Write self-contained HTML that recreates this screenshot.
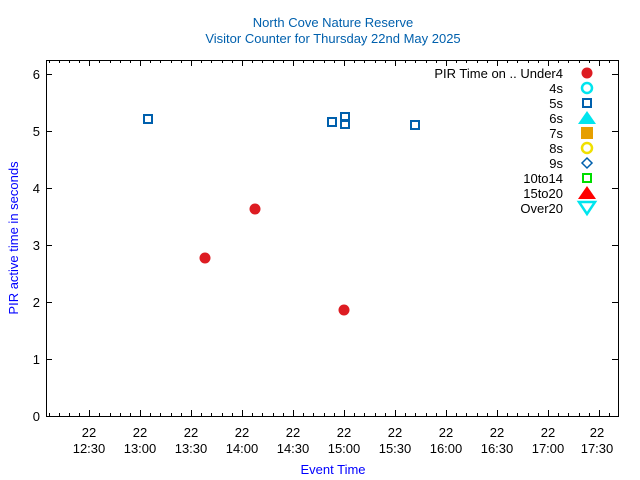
<!DOCTYPE html>
<html><head><style>body{margin:0;background:#fff}svg{display:block}text{font-family:"Liberation Sans",sans-serif}</style></head><body>
<svg width="640" height="480" xmlns="http://www.w3.org/2000/svg">
<rect width="640" height="480" fill="#fff"/>
<text x="333" y="27" font-size="13" fill="#0060ad" text-anchor="middle">North Cove Nature Reserve</text>
<text x="333" y="43" font-size="13" fill="#0060ad" text-anchor="middle">Visitor Counter for Thursday 22nd May 2025</text>
<rect x="46.5" y="60.5" width="572" height="356" fill="none" stroke="#000" stroke-width="1"/>
<path stroke="#000" stroke-width="1" d="M46 416.5h6M46 359.5h6M46 302.5h6M46 245.5h6M46 188.5h6M46 131.5h6M46 74.5h6M618 416.5h-6M618 359.5h-6M618 302.5h-6M618 245.5h-6M618 188.5h-6M618 131.5h-6M618 74.5h-6"/>
<path stroke="#000" stroke-width="1" d="
M49.5 416v-3M49.5 60v3M59.5 416v-3M59.5 60v3M69.5 416v-3M69.5 60v3M79.5 416v-3M79.5 60v3M89.5 416v-6M89.5 60v6
M99.5 416v-3M99.5 60v3M110.5 416v-3M110.5 60v3M120.5 416v-3M120.5 60v3M130.5 416v-3M130.5 60v3M140.5 416v-6M140.5 60v6
M150.5 416v-3M150.5 60v3M160.5 416v-3M160.5 60v3M171.5 416v-3M171.5 60v3M181.5 416v-3M181.5 60v3M191.5 416v-6M191.5 60v6
M201.5 416v-3M201.5 60v3M211.5 416v-3M211.5 60v3M222.5 416v-3M222.5 60v3M232.5 416v-3M232.5 60v3M242.5 416v-6M242.5 60v6
M252.5 416v-3M252.5 60v3M262.5 416v-3M262.5 60v3M273.5 416v-3M273.5 60v3M283.5 416v-3M283.5 60v3M293.5 416v-6M293.5 60v6
M303.5 416v-3M303.5 60v3M313.5 416v-3M313.5 60v3M324.5 416v-3M324.5 60v3M334.5 416v-3M334.5 60v3M344.5 416v-6M344.5 60v6
M354.5 416v-3M354.5 60v3M364.5 416v-3M364.5 60v3M375.5 416v-3M375.5 60v3M385.5 416v-3M385.5 60v3M395.5 416v-6M395.5 60v6
M405.5 416v-3M405.5 60v3M415.5 416v-3M415.5 60v3M426.5 416v-3M426.5 60v3M436.5 416v-3M436.5 60v3M446.5 416v-6M446.5 60v6
M456.5 416v-3M456.5 60v3M466.5 416v-3M466.5 60v3M477.5 416v-3M477.5 60v3M487.5 416v-3M487.5 60v3M497.5 416v-6M497.5 60v6
M507.5 416v-3M507.5 60v3M517.5 416v-3M517.5 60v3M528.5 416v-3M528.5 60v3M538.5 416v-3M538.5 60v3M548.5 416v-6M548.5 60v6
M558.5 416v-3M558.5 60v3M568.5 416v-3M568.5 60v3M579.5 416v-3M579.5 60v3M589.5 416v-3M589.5 60v3M599.5 416v-6M599.5 60v6
M609.5 416v-3M609.5 60v3"/>
<g font-size="13" fill="#000" text-anchor="end">
<text x="40" y="421">0</text><text x="40" y="364">1</text><text x="40" y="307">2</text><text x="40" y="250">3</text><text x="40" y="193">4</text><text x="40" y="136">5</text><text x="40" y="79">6</text>
</g>
<g font-size="13" fill="#000" text-anchor="middle">
<text x="89" y="437">22</text><text x="89" y="453">12:30</text>
<text x="140" y="437">22</text><text x="140" y="453">13:00</text>
<text x="191" y="437">22</text><text x="191" y="453">13:30</text>
<text x="242" y="437">22</text><text x="242" y="453">14:00</text>
<text x="293" y="437">22</text><text x="293" y="453">14:30</text>
<text x="344" y="437">22</text><text x="344" y="453">15:00</text>
<text x="395" y="437">22</text><text x="395" y="453">15:30</text>
<text x="446" y="437">22</text><text x="446" y="453">16:00</text>
<text x="497" y="437">22</text><text x="497" y="453">16:30</text>
<text x="548" y="437">22</text><text x="548" y="453">17:00</text>
<text x="597" y="437">22</text><text x="597" y="453">17:30</text>
</g>
<text x="333" y="474" font-size="13" fill="#0000ff" text-anchor="middle">Event Time</text>
<text transform="translate(18,238) rotate(-90)" font-size="13" fill="#0000ff" text-anchor="middle">PIR active time in seconds</text>
<g fill="#dd1c22">
<circle cx="205" cy="258" r="5.5"/><circle cx="255" cy="209" r="5.5"/><circle cx="344" cy="310" r="5.5"/>
</g>
<g fill="none" stroke="#0060ad" stroke-width="2">
<rect x="144" y="115" width="8" height="8"/><rect x="328" y="118" width="8" height="8"/><rect x="341" y="113" width="8" height="8"/><rect x="341" y="120" width="8" height="8"/><rect x="411" y="121" width="8" height="8"/>
</g>
<g font-size="13" fill="#000" text-anchor="end">
<text x="563" y="78">PIR Time on .. Under4</text><text x="563" y="93">4s</text><text x="563" y="108">5s</text><text x="563" y="123">6s</text><text x="563" y="138">7s</text><text x="563" y="153">8s</text><text x="563" y="168">9s</text><text x="563" y="183">10to14</text><text x="563" y="198">15to20</text><text x="563" y="213">Over20</text>
</g>
<circle cx="587" cy="73" r="5.5" fill="#dd1c22"/>
<circle cx="587" cy="88" r="5" fill="none" stroke="#00e5ee" stroke-width="2.5"/>
<rect x="583" y="99" width="8" height="8" fill="none" stroke="#0060ad" stroke-width="2"/>
<polygon points="587,111 596,124 578,124" fill="#00e5ee"/>
<rect x="581" y="127" width="12" height="12" fill="#e69f00"/>
<circle cx="587" cy="148" r="5" fill="none" stroke="#f0e000" stroke-width="2.5"/>
<polygon points="587,158 592,163 587,168 582,163" fill="none" stroke="#0060ad" stroke-width="1.5"/>
<rect x="583" y="174" width="8" height="8" fill="none" stroke="#00dd00" stroke-width="2"/>
<polygon points="587,186 596,199 578,199" fill="#ff0000"/>
<polygon points="579,202 595,202 587,214" fill="none" stroke="#00e5ee" stroke-width="2.5"/>
</svg>
</body></html>
